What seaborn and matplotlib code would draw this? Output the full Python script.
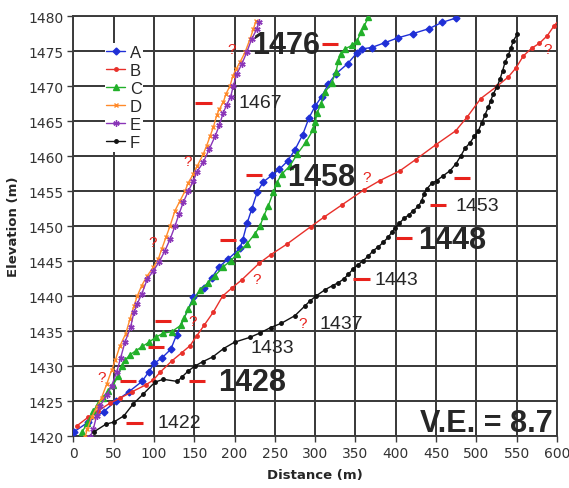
import matplotlib
matplotlib.use("Agg")
import matplotlib.pyplot as plt
import seaborn as sns
import pandas as pd

# Profiles: distance (m) and elevation (m)
a_dist = [0.9, 18.6, 37.7, 53, 68.7, 85.2, 93.9, 100.5, 110.4, 121, 128.3, 148.9, 162.2, 171.7,
          181.2, 192.3, 206.8, 210.1, 215.9, 221.3, 228.3, 235.7, 246.9, 255.6, 266, 275, 284.4,
          292.6, 299.9, 308.2, 316.4, 325.5, 340.4, 351.6, 357.8, 370.2, 386.7, 403.2, 421.8,
          441.3, 457.8, 474.4]
a_elev = [1420.6, 1422.0, 1423.5, 1425.0, 1426.3, 1427.8, 1429.2, 1430.4, 1431.2, 1432.4, 1434.5,
          1439.8, 1441.2, 1442.6, 1444.2, 1445.3, 1446.8, 1448.0, 1450.5, 1452.4, 1454.9, 1456.3,
          1457.3, 1458.1, 1459.3, 1460.9, 1463.0, 1465.5, 1467.1, 1468.5, 1470.3, 1471.7, 1473.2,
          1474.7, 1475.3, 1475.5, 1476.2, 1476.9, 1477.5, 1478.2, 1479.1, 1479.7]

b_dist = [5, 18.6, 31, 45.5, 58, 72.5, 89.8, 99.3, 107.6, 122, 134.5, 144.8, 153.1, 162.2, 173.7,
          185.3, 197.3, 208.9, 230.8, 244.9, 264.8, 294.5, 311.4, 333, 361, 380.5, 405.3, 424.8,
          449.6, 474.4, 488.8, 505.4, 526, 539.7, 549.3, 558.3, 568.7, 578.2, 588.1, 596.4, 604]
b_elev = [1421.5, 1422.7, 1423.6, 1424.7, 1425.4, 1426.3, 1427.3, 1428.0, 1429.1, 1430.7, 1431.9,
          1432.9, 1434.3, 1435.8, 1437.7, 1440.0, 1441.2, 1442.3, 1444.7, 1445.9, 1447.4, 1449.9,
          1451.3, 1453.0, 1455.2, 1456.5, 1457.9, 1459.5, 1461.6, 1463.6, 1465.6, 1468.2, 1470.0,
          1471.3, 1472.6, 1474.3, 1475.4, 1476.1, 1477.2, 1478.6, 1479.6]

c_dist = [11.2, 17.4, 24.8, 31, 37.2, 43.4, 49.6, 55.8, 60, 64.1, 70.3, 77.8, 85.6, 93.9, 102.2,
          111.7, 122, 133.2, 137.3, 142.7, 148.1, 157.2, 167.5, 175.8, 186.1, 195.3, 202.7, 215.1,
          225.4, 231.6, 236.6, 241.9, 248.1, 252.4, 258.5, 268.8, 277.9, 288.7, 297.8, 299.9,
          302.7, 307, 312.3, 320.6, 325.9, 328.8, 332.1, 337.1, 345.4, 352.3, 356.9, 361, 366]
c_elev = [1420.6, 1421.9, 1423.6, 1424.6, 1425.5, 1426.5, 1427.3, 1428.6, 1430.0, 1430.8, 1431.6,
          1432.2, 1432.8, 1433.4, 1434.1, 1434.7, 1434.9, 1435.8, 1436.8, 1438.1, 1439.3, 1440.8,
          1441.9, 1442.9, 1444.2, 1445.0, 1446.0, 1447.4, 1448.9, 1450.0, 1451.5, 1452.9, 1454.8,
          1456.2, 1457.4, 1458.6, 1460.3, 1462.0, 1463.8, 1464.8, 1466.2, 1467.4, 1469.1, 1470.5,
          1472.0, 1473.6, 1474.6, 1475.3, 1475.8, 1476.5, 1477.7, 1478.6, 1479.8]

d_dist = [14.5, 17.4, 22.8, 29, 35.2, 41.4, 47.6, 52, 58, 65, 70.3, 75.3, 79.4, 84.9, 91.8, 99.3,
          105.5, 109.7, 115, 120, 126.2, 132.4, 138.6, 142.7, 148.9, 153.9, 161.3, 165.5, 169.6,
          173.7, 177.9, 181.2, 186.1, 189.5, 194.4, 197.8, 201.9, 206.8, 213, 219.2, 223.3, 226.7]
d_elev = [1419.8, 1421.0, 1422.7, 1424.1, 1425.5, 1427.4, 1429.4, 1430.8, 1432.9, 1434.6, 1436.7,
          1438.6, 1440.0, 1441.5, 1442.9, 1444.1, 1445.3, 1446.7, 1448.4, 1450.0, 1452.2, 1453.6,
          1455.0, 1456.2, 1457.4, 1458.6, 1460.3, 1461.5, 1462.8, 1464.1, 1465.8, 1466.7, 1467.7,
          1468.9, 1470.0, 1471.4, 1472.4, 1473.4, 1474.8, 1476.7, 1478.1, 1479.3]

e_dist = [20.7, 24.8, 29, 33.1, 41.4, 47.6, 53.8, 58.8, 64.1, 71.2, 75.3, 79.4, 84.9, 91.8, 99.3,
          106.7, 113.8, 120, 126.2, 131.1, 136.5, 142.7, 148.9, 153.1, 161.3, 168.7, 176.2, 181.2,
          186.1, 190.3, 195.3, 198.5, 202.7, 208.9, 215.1, 221.3, 227.5, 230.4]
e_elev = [1419.8, 1421.0, 1422.9, 1424.3, 1425.8, 1427.2, 1429.1, 1431.2, 1433.4, 1435.6, 1437.7,
          1438.9, 1440.3, 1442.4, 1443.6, 1444.9, 1446.5, 1448.1, 1450.0, 1451.7, 1453.4, 1455.0,
          1456.4, 1457.7, 1459.1, 1461.0, 1462.9, 1464.4, 1466.2, 1467.3, 1468.5, 1470.0, 1471.7,
          1473.1, 1474.8, 1476.7, 1478.1, 1479.2]

f_dist = [25.7, 40.6, 50.5, 62.9, 74.4, 86.8, 101.4, 111.7, 129, 134.5, 142.7, 151, 160.3, 173,
          186.5, 200, 219.2, 231.2, 244.9, 258, 275, 287.5, 293.7, 301.1, 312.3, 321.8, 328.8,
          336.2, 341.2, 347.4, 353.6, 359.1, 366, 372.2, 378.4, 384.6, 390.8, 395, 399.1, 404.5,
          410.3, 416.5, 421.8, 428, 432.2, 435.1, 438.5, 444.7, 450.9, 459.1, 467.4, 474.8, 480.6,
          486, 492.2, 497.5, 502.5, 506.6, 510.8, 514.9, 517.8, 521.1, 525.3, 529.4, 532.7, 535.6,
          539.7, 543.1, 546, 550.9]
f_elev = [1420.6, 1421.7, 1422.0, 1422.9, 1424.6, 1426.0, 1427.7, 1428.1, 1427.8, 1428.4, 1429.3,
          1430.0, 1430.6, 1431.3, 1432.5, 1433.4, 1434.1, 1434.7, 1435.5, 1436.1, 1437.2, 1438.6,
          1439.3, 1440.0, 1440.9, 1441.5, 1441.9, 1442.5, 1443.1, 1443.9, 1444.5, 1445.0, 1445.7,
          1446.5, 1447.0, 1447.7, 1448.4, 1449.1, 1449.7, 1450.4, 1451.1, 1451.6, 1452.2, 1452.8,
          1453.6, 1454.6, 1455.3, 1456.1, 1456.5, 1457.2, 1457.9, 1458.9, 1460.0, 1461.1, 1461.9,
          1462.8, 1463.6, 1464.7, 1465.9, 1467.0, 1467.9, 1468.9, 1469.8, 1471.0, 1472.2, 1473.4,
          1474.4, 1475.5, 1476.5, 1477.4]

# Red contact marks (centre distance, elevation)
mark_dist = [318.5, 161.5, 224, 482.5, 191.5, 452, 410, 357.5, 111, 103, 68, 153.5, 76]
mark_elev = [1476, 1467.6, 1457.3, 1456.9, 1448, 1453, 1448.3, 1442.4, 1436.4, 1432.7,
             1427.9, 1427.9, 1421.9]

# Elevation labels
big_labels = ["1476", "1458", "1448", "1428"]
big_dist = [222, 265, 427.7, 179.5]
big_elev = [1475.9, 1457, 1448, 1427.7]
small_labels = ["1467", "1453", "1443", "1437", "1433", "1422"]
small_dist = [204.4, 473.6, 374, 306, 220.4, 105]
small_elev = [1467.6, 1452.9, 1442.3, 1436.1, 1432.6, 1422]

# Uncertain contacts
q_dist = [197, 142.3, 99, 228, 148.5, 285, 364, 589, 35.6]
q_elev = [1475.3, 1459.3, 1447.7, 1442.4, 1436.4, 1436.1, 1457, 1475.3, 1428.4]

x_ticks = list(range(0, 601, 50))
y_ticks = list(range(1420, 1481, 5))

series = [
    ("A", a_dist, a_elev, "#1f2fd6", "D", 3.5),
    ("B", b_dist, b_elev, "#e8302a", "o", 2.5),
    ("C", c_dist, c_elev, "#22b02a", "^", 4.5),
    ("D", d_dist, d_elev, "#ff8a2a", "x", 3.5),
    ("E", e_dist, e_elev, "#8a35b8", (6, 2, 0), 4.5),
    ("F", f_dist, f_elev, "#111111", "o", 2.5),
]

sns.set_style("whitegrid")
plt.rcParams["font.family"] = ["DejaVu Sans"]
plt.rcParams["grid.color"] = "#3c3c3c"
plt.rcParams["grid.linewidth"] = 1.4
plt.rcParams["axes.edgecolor"] = "#3c3c3c"
plt.rcParams["axes.linewidth"] = 1.4

fig = plt.figure(figsize=(5.69, 4.89), dpi=100)
ax = fig.add_axes([0.1288, 0.1063, 0.8500, 0.8589])

for name, xs, ys, col, mk, ms in series:
    df = pd.DataFrame({"Distance": xs, "Elevation": ys})
    sns.lineplot(data=df, x="Distance", y="Elevation", sort=False, estimator=None,
                 color=col, marker=mk, markersize=ms, markeredgecolor=col,
                 markeredgewidth=1.0, linewidth=1.0, label=name, ax=ax, zorder=3)

ax.set_xlim(0, 600)
ax.set_ylim(1420, 1480)
ax.set_xticks(x_ticks)
ax.set_yticks(y_ticks)
ax.tick_params(axis="both", direction="out", length=4, width=1, color="#3c3c3c",
               labelsize=10, labelcolor="#333333", pad=3, bottom=True, left=True)

# grid drawn as plain lines at every tick, on top of the axes background
for xv in x_ticks:
    ax.axvline(xv, color="#3c3c3c", linewidth=1.4, zorder=2)
for yv in y_ticks:
    ax.axhline(yv, color="#3c3c3c", linewidth=1.4, zorder=2)

ax.set_xlabel("Distance (m)", fontsize=9.5, fontweight="bold", labelpad=6)
ax.set_ylabel("Elevation (m)", fontsize=9.5, fontweight="bold", labelpad=6)

# contact marks
ax.hlines(mark_elev, [x - 10 for x in mark_dist], [x + 10 for x in mark_dist],
          colors="#e8221c", linewidth=2.2, zorder=4)

for t, x, y in zip(big_labels, big_dist, big_elev):
    ax.text(x, y, t, fontsize=22, fontweight="bold", family="Liberation Sans",
            va="center", ha="left", zorder=5)
for t, x, y in zip(small_labels, small_dist, small_elev):
    ax.text(x, y, t, fontsize=14, family="Liberation Sans", va="center", ha="left", zorder=5)
for x, y in zip(q_dist, q_elev):
    ax.text(x, y, "?", fontsize=11, color="#e8221c", family="Liberation Sans",
            va="center", ha="center", zorder=5)

ax.text(595, 1421.9, "V.E. = 8.7", fontsize=22, fontweight="bold", family="Liberation Sans",
        va="center", ha="right", zorder=5)

leg = ax.legend(loc="upper left", bbox_to_anchor=(0.065, 0.935), frameon=True,
                fontsize=12, handlelength=1.1, handletextpad=0.3, labelspacing=0.18,
                borderpad=0.1, borderaxespad=0)
leg.get_frame().set_facecolor("white")
leg.get_frame().set_edgecolor("none")
leg.get_frame().set_alpha(1)
for txt in leg.get_texts():
    txt.set_family("Liberation Sans")

fig.savefig("out.png", dpi=100)
